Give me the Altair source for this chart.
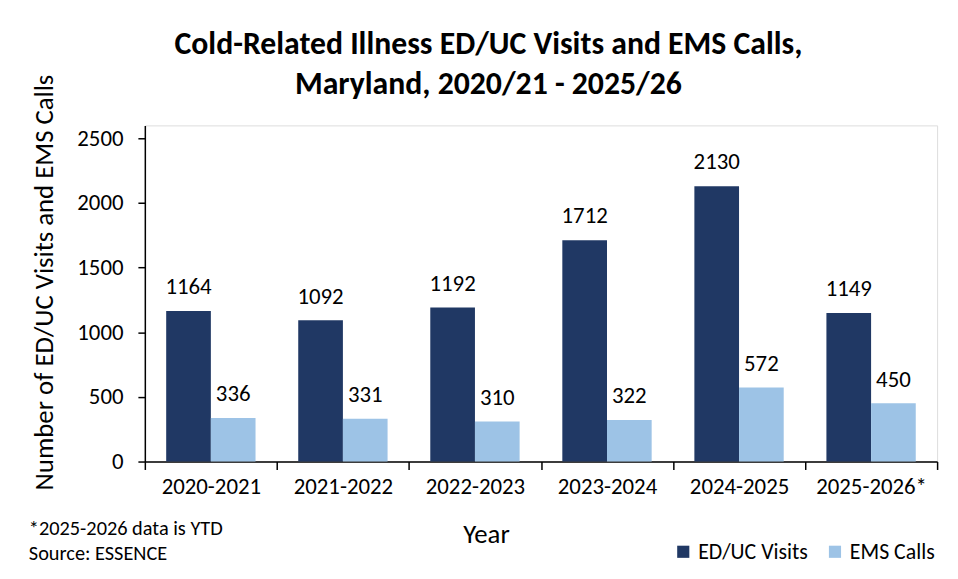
import altair as alt
import pandas as pd

years = ["2020-2021", "2021-2022", "2022-2023", "2023-2024", "2024-2025", "2025-2026*"]
ed_visits = [1164, 1092, 1192, 1712, 2130, 1149]
ems_calls = [336, 331, 310, 322, 572, 450]
series = ["ED/UC Visits", "EMS Calls"]
colors = ["#203864", "#9DC3E6"]
footnotes = ["*2025-2026 data is YTD", "Source: ESSENCE"]

rows = []
for y, e, m in zip(years, ed_visits, ems_calls):
    rows.append({"Year": y, "Series": series[0], "Value": e})
    rows.append({"Year": y, "Series": series[1], "Value": m})
df = pd.DataFrame(rows)

FONT = "Carlito, Lato"

x_enc = alt.X("Year:N", sort=years,
              scale=alt.Scale(paddingInner=0, paddingOuter=0),
              axis=alt.Axis(title="Year", labelAngle=0, labelFontSize=23, labelColor="black",
                            labelFont=FONT, labelPadding=6,
                            tickBand="extent", ticks=True, tickSize=8, tickColor="black",
                            domainColor="black", domainWidth=1.5, tickWidth=1.5,
                            titleFontSize=27, titleFont=FONT, titleFontWeight="normal",
                            titleColor="black", titleX=344, titleY=74,
                            titleAlign="center", titleBaseline="middle"))
xoff = alt.XOffset("Series:N", sort=series,
                   scale=alt.Scale(paddingInner=0, paddingOuter=0.478))
y_enc = alt.Y("Value:Q",
              scale=alt.Scale(domain=[0, 2500]),
              axis=alt.Axis(title="Number of ED/UC Visits and EMS Calls",
                            values=[0, 500, 1000, 1500, 2000, 2500], format="d",
                            grid=False, labelFontSize=23, labelColor="black", labelFont=FONT,
                            tickSize=7, tickColor="black", tickWidth=1.5,
                            domainColor="black", domainWidth=1.5, labelPadding=15,
                            titleFontSize=27, titleFont=FONT, titleFontWeight="normal",
                            titleColor="black", titleX=-101, titleY=158,
                            titleAlign="center", titleBaseline="middle"))

base = alt.Chart(df)
bars = base.mark_bar().encode(
    x=x_enc, xOffset=xoff, y=y_enc,
    color=alt.Color("Series:N", sort=series,
                    scale=alt.Scale(domain=series, range=colors),
                    legend=alt.Legend(title=None, orient="none", legendX=532, legendY=419,
                                      direction="horizontal", symbolType="square",
                                      symbolSize=150, symbolStrokeWidth=0,
                                      labelFontSize=22, labelFont=FONT, labelColor="black",
                                      columnPadding=16, labelOffset=4, symbolOpacity=1)),
)
labels = base.mark_text(baseline="alphabetic", dy=-17, fontSize=23, font=FONT, color="black").encode(
    x=alt.X("Year:N", sort=years), xOffset=alt.XOffset("Series:N", sort=series),
    y="Value:Q", text="Value:Q")

note1 = alt.Chart(pd.DataFrame({"note": [footnotes[0]]})).mark_text(
    align="left", baseline="middle", fontSize=20.5, font=FONT, color="black").encode(
    x=alt.value(-117), y=alt.value(407), text="note:N")
note2 = alt.Chart(pd.DataFrame({"note": [footnotes[1]]})).mark_text(
    align="left", baseline="middle", fontSize=20.5, font=FONT, color="black").encode(
    x=alt.value(-117), y=alt.value(432), text="note:N")

chart = alt.layer(bars, labels, note1, note2).properties(
    width=799, height=339,
    title=alt.TitleParams(
        text=["Cold-Related Illness ED/UC Visits and EMS Calls,", "Maryland, 2020/21 - 2025/26"],
        fontSize=32, font=FONT, fontWeight="bold", color="black",
        anchor="middle", frame="group", dx=-53, lineHeight=40, offset=20, dy=47),
    autosize=alt.AutoSizeParams(type="none"),
    padding={"left": 138, "top": 116, "right": 13, "bottom": 108},
).configure_view(stroke=None).configure(background="white")

chart.save("out.html", embed_options={"renderer": "svg", "actions": False})
